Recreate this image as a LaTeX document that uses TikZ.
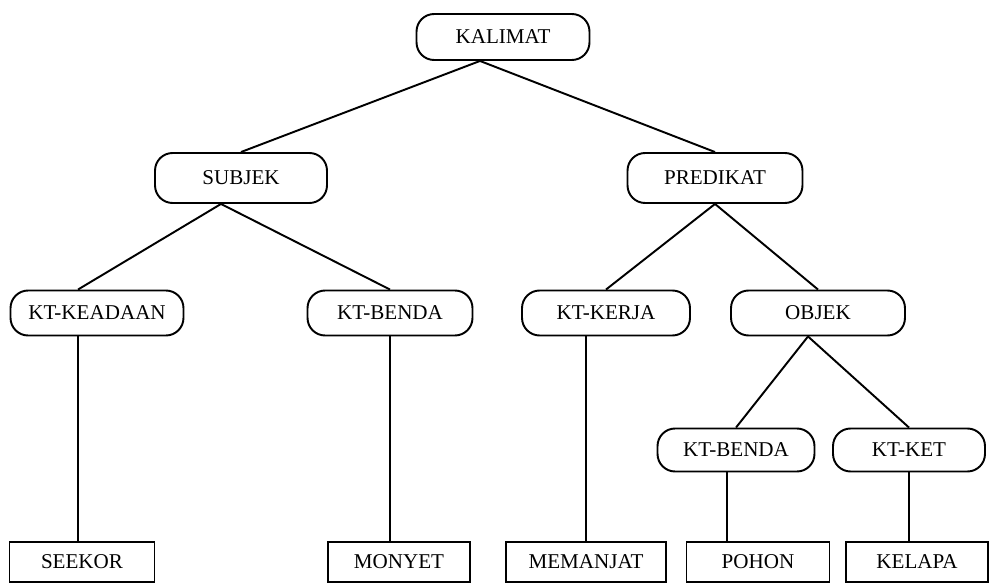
\documentclass[tikz,border=0pt]{standalone}
\usepackage{fontspec}
\setmainfont{Liberation Serif}
\usetikzlibrary{positioning}

\begin{document}
\begin{tikzpicture}[x=0.02cm, y=-0.02cm,
  rnode/.style={rectangle, rounded corners=10pt, draw, line width=1.1pt, minimum height=0.9cm, font=\fontsize{12}{14}\selectfont, inner sep=2pt},
  leaf/.style={rectangle, draw, line width=1.1pt, minimum height=0.8cm, font=\fontsize{12}{14}\selectfont, inner sep=2pt},
  branch/.style={line width=1.1pt}
]
  \useasboundingbox (0,0) rectangle (996,584);
  % top levels
  \node[rnode, minimum width=3.46cm, minimum height=0.92cm] (kalimat) at (503,37) {KALIMAT};
  \node[rnode, minimum width=3.44cm, minimum height=1.0cm] (subjek) at (241,178) {SUBJEK};
  \node[rnode, minimum width=3.5cm, minimum height=1.0cm] (predikat) at (715,178) {PREDIKAT};
  % word classes
  \node[rnode, minimum width=3.46cm] (keadaan) at (97,313) {KT-KEADAAN};
  \node[rnode, minimum width=3.3cm] (benda) at (390,313) {KT-BENDA};
  \node[rnode, minimum width=3.36cm] (kerja) at (606,313) {KT-KERJA};
  \node[rnode, minimum width=3.48cm] (objek) at (818,313) {OBJEK};
  \node[rnode, minimum width=3.14cm, minimum height=0.86cm] (bendab) at (736,450) {KT-BENDA};
  \node[rnode, minimum width=3.04cm, minimum height=0.86cm] (ket) at (909,450) {KT-KET};
  % words
  \node[leaf, minimum width=2.9cm] (seekor) at (82,562) {SEEKOR};
  \node[leaf, minimum width=2.84cm] (monyet) at (399,562) {MONYET};
  \node[leaf, minimum width=3.2cm] (memanjat) at (586,562) {MEMANJAT};
  \node[leaf, minimum width=2.86cm] (pohon) at (758,562) {POHON};
  \node[leaf, minimum width=2.84cm] (kelapa) at (917,562) {KELAPA};
  % branches
  \draw[branch] ([xshift=-0.46cm]kalimat.south) -- (subjek.north);
  \draw[branch] ([xshift=-0.46cm]kalimat.south) -- (predikat.north);
  \draw[branch] ([xshift=-0.4cm]subjek.south) -- ([xshift=-0.08cm]seekor.north |- keadaan.north);
  \draw[branch] ([xshift=-0.4cm]subjek.south) -- (benda.north);
  \draw[branch] (predikat.south) -- (kerja.north);
  \draw[branch] (predikat.south) -- (objek.north);
  \draw[branch] ([xshift=-0.2cm]objek.south) -- (bendab.north);
  \draw[branch] ([xshift=-0.2cm]objek.south) -- (ket.north);
  \draw[branch] ([xshift=-0.08cm]seekor.north) -- ([xshift=-0.08cm]seekor.north |- keadaan.south);
  \draw[branch] (benda.south) -- (monyet.north -| benda.south);
  \draw[branch] (memanjat.north) -- (memanjat.north |- kerja.south);
  \draw[branch] ([xshift=-0.18cm]bendab.south) -- ([xshift=-0.18cm]bendab.south |- pohon.north);
  \draw[branch] (ket.south) -- (kelapa.north -| ket.south);
\end{tikzpicture}
\end{document}
